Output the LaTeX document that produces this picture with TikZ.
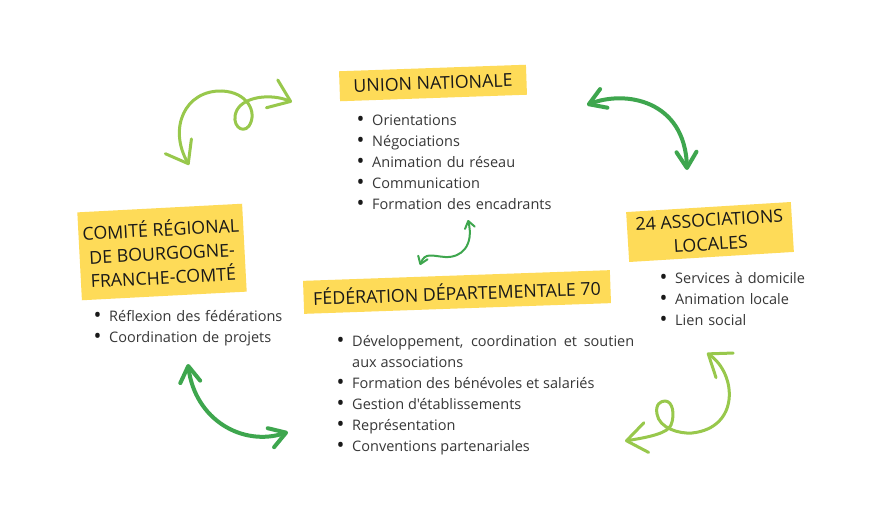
\documentclass[tikz,border=0pt]{standalone}
\usepackage{fontspec}
\setmainfont{Open Sans}[Ligatures=TeXOff]
\usepackage{xcolor}
\usepackage{graphicx}
\usetikzlibrary{
  arrows.meta,
  positioning
}
\definecolor{jaune}{RGB}{254,219,88}
\definecolor{vertclair}{RGB}{152,200,76}
\definecolor{vertfonce}{RGB}{62,166,78}
\definecolor{titre}{RGB}{25,25,25}
\definecolor{texte}{RGB}{55,55,55}
\newcommand{\puce}[1]{\par\noindent\hangindent=15.5pt\hangafter=1%
  \makebox[15.5pt][l]{\textcolor{titre}{\raisebox{-0.1em}{\scalebox{1.45}{\textbullet}}}}#1}

\begin{document}
\begin{tikzpicture}[
  x=1pt, y=-1pt,
  titrebox/.style={
    fill=jaune, inner sep=0pt, align=center, text=titre,
    font=\fontsize{17.8}{24}\selectfont
  },
  liste/.style={
    anchor=north west, inner sep=0pt, align=left, text=texte,
    font=\fontsize{14.5}{21}\selectfont
  },
  flecheclaire/.style={
    draw=vertclair, line width=3pt, line cap=round, line join=round,
    >={Straight Barb[length=20pt,width=30pt,round]}, <->
  },
  flechefonce/.style={
    draw=vertfonce, line width=4pt, line cap=round, line join=round,
    >={Straight Barb[length=16pt,width=20pt,round]}, <->
  },
  flechepetite/.style={
    draw=vertfonce, line width=2pt, line cap=round, line join=round,
    >={Straight Barb[length=7pt,width=10pt,round]}, <->
  }
]
\useasboundingbox[fill=white] (0,0) rectangle (883,508);

% titres
\node[titrebox, rotate=2, minimum width=187pt, minimum height=30pt]
  (nat) at (433,83) {UNION NATIONALE};
\node[titrebox, rotate=3, minimum width=165pt, minimum height=88pt]
  (crbfc) at (162,252) {COMITÉ RÉGIONAL\\DE BOURGOGNE-\\FRANCHE-COMTÉ};
\node[titrebox, rotate=3.5, minimum width=165pt, minimum height=50pt]
  (assoc) at (710,232) {24 ASSOCIATIONS\\LOCALES};
\node[titrebox, rotate=2, minimum width=307pt, minimum height=33pt]
  (fd) at (457,292) {FÉDÉRATION DÉPARTEMENTALE 70};

% listes
\node[liste, text width=220pt] (natliste) at (356.5,104) {%
  \puce{Orientations}
  \puce{Négociations}
  \puce{Animation du réseau}
  \puce{Communication}
  \puce{Formation des encadrants}};
\node[liste, text width=200pt] (crbfcliste) at (93.5,300) {%
  \puce{Réflexion des fédérations}
  \puce{Coordination de projets}};
\node[liste, text width=170pt] (assocliste) at (659.5,262) {%
  \puce{Services à domicile}
  \puce{Animation locale}
  \puce{Lien social}};
\node[liste, align=justify, text width=297.5pt] (fdliste) at (336.5,325) {%
  \puce{Développement, coordination et soutien\linebreak aux associations}
  \puce{Formation des bénévoles et salariés}
  \puce{Gestion d'établissements}
  \puce{Représentation}
  \puce{Conventions partenariales}};

% extremites des fleches
\coordinate (hg-a) at (189,165);
\coordinate (hg-b) at (292,102);
\coordinate (hd-a) at (587,105);
\coordinate (hd-b) at (687,170);
\coordinate (bg-a) at (188,364);
\coordinate (bg-b) at (288,432);
\coordinate (bd-a) at (707,353);
\coordinate (bd-b) at (625,441);
\coordinate (c-a) at (468,220);
\coordinate (c-b) at (420,265);

% fleches
\draw[flecheclaire] (hg-a) .. controls (168,128) and (185,90) .. (222,91)
  .. controls (247,92) and (258,112) .. (249,126)
  .. controls (242,135) and (230,124) .. (237,110)
  .. controls (244,97) and (270,93) .. (hg-b);
\draw[flechefonce] (hd-a) .. controls (625,90) and (685,100) .. (hd-b);
\draw[flechefonce] (bg-a) .. controls (195,420) and (243,447) .. (bg-b);
\draw[flecheclaire] (bd-a) .. controls (737,374) and (740,428) .. (692,433)
  .. controls (679,434) and (659,428) .. (657,414)
  .. controls (655,404) and (661,401) .. (665,401)
  .. controls (673,401) and (675,415) .. (671,425)
  .. controls (668,433) and (650,437) .. (bd-b);
\draw[flechepetite] (c-a) .. controls (474,245) and (462,258) .. (445,257)
  .. controls (432,256) and (425,252) .. (c-b);
\end{tikzpicture}
\end{document}
